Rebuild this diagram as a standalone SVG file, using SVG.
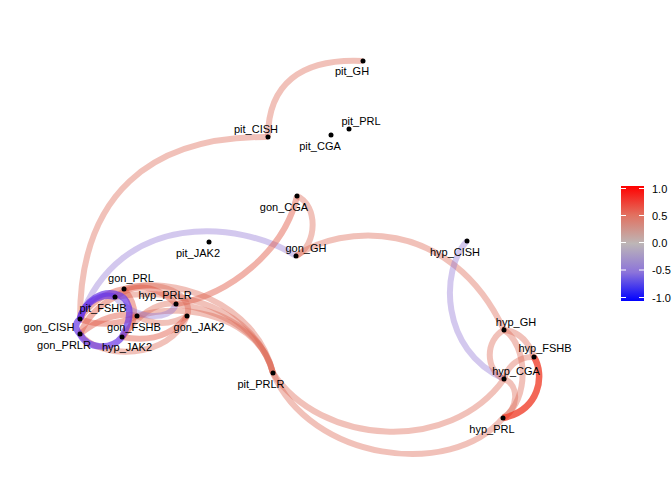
<svg xmlns="http://www.w3.org/2000/svg" width="672" height="480" viewBox="0 0 672 480">
<style>
text { font-family: "Liberation Sans", Arial, sans-serif; font-size: 11px; fill: #000; }
.lbl { text-anchor: middle; }
.e { fill: none; stroke-width: 6; }
.pos { stroke: rgb(220,100,80); stroke-opacity: 0.4; }
.pos2 { stroke: rgb(225,85,65); stroke-opacity: 0.45; }
.strong { stroke: rgb(240,60,40); stroke-opacity: 0.78; stroke-width: 6.5; }
.neg { stroke: rgb(140,110,210); stroke-opacity: 0.38; }
.negS { stroke: rgb(105,55,230); stroke-opacity: 0.7; stroke-width: 6.5; }
.dot { fill: #000; }
.tick { stroke: #fff; stroke-width: 1; }
</style>
<defs>
<linearGradient id="cbar" x1="0" y1="0" x2="0" y2="1">
<stop offset="0" stop-color="#ff0000"/>
<stop offset="0.25" stop-color="#e2705f"/>
<stop offset="0.5" stop-color="#bdb6b6"/>
<stop offset="0.75" stop-color="#8c74da"/>
<stop offset="1" stop-color="#0000ff"/>
</linearGradient>
</defs>
<rect width="672" height="480" fill="#fff"/>
<g id="edges">
<path class="e pos" d="M268,137 C268,85 300,58 363,61"/>
<path class="e pos" d="M268,137 C150,136 80,195 80,319"/>
<path class="e neg" d="M296,256 C240,220 120,210 80,319"/>
<path class="e pos" d="M297,196 C318,205 318,245 296,256"/>
<path class="e pos2" d="M297,196 C285,250 230,295 176,304"/>
<path class="e pos" d="M296,256 C340,225 450,215 504,330"/>
<path class="e neg" d="M467,241 C440,270 440,350 504,379"/>
<path class="e pos" d="M504,330 Q525,332 534,357"/>
<path class="e pos" d="M504,330 C485,340 485,370 504,379"/>
<path class="e pos" d="M504,330 C528,345 530,400 503,418"/>
<path class="e pos" d="M534,357 C520,356 508,365 504,379"/>
<path class="e pos" d="M504,379 C520,385 518,410 503,418"/>
<path class="e strong" d="M534,357 C545,375 540,410 503,418"/>
<path class="e pos" d="M273,373 C320,445 450,455 504,379"/>
<path class="e pos" d="M273,373 C310,460 450,480 503,418"/>
<path class="e pos" d="M176,304 C220,310 262,330 273,373"/>
<path class="e pos" d="M124,289 C170,275 255,300 273,373"/>
<path class="e pos" d="M137,316 C190,300 260,320 273,373"/>
<path class="e pos" d="M115,297 C180,285 255,310 273,373"/>
<path class="e pos" d="M80,334 C100,360 170,360 187,316"/>
<path class="e pos" d="M124,289 C160,278 195,295 187,316"/>
<path class="e pos2" d="M80,319 Q108,330 137,316"/>
<path class="e pos2" d="M80,334 Q110,310 137,316"/>
<path class="e pos2" d="M115,297 Q90,310 80,334"/>
<path class="e pos2" d="M124,289 Q145,315 122,337"/>
<path class="e pos2" d="M124,289 Q95,295 80,319"/>
<path class="e pos2" d="M115,297 Q145,275 176,304"/>
<path class="e pos" d="M137,316 Q162,330 187,316"/>
<path class="e pos2" d="M122,337 Q165,345 187,316"/>
<path class="e pos" d="M122,337 Q150,300 176,304"/>
<path class="e neg" d="M115,297 C135,320 170,322 176,304"/>
<path class="e negS" d="M80,319 C90,280 150,285 122,337"/>
<path class="e negS" d="M80,334 C88,350 112,350 122,337"/>
<path class="e negS" d="M80,319 Q72,326 80,334"/>
<path class="e negS" d="M115,297 C100,292 82,305 80,319"/>
</g>
<g id="pit_GH"><circle class="dot" cx="363" cy="61" r="2.5"/><text class="lbl" x="352" y="75">pit_GH</text></g>
<g id="pit_PRL"><circle class="dot" cx="349" cy="129" r="2.5"/><text class="lbl" x="361" y="125">pit_PRL</text></g>
<g id="pit_CGA"><circle class="dot" cx="331" cy="135" r="2.5"/><text class="lbl" x="320" y="150">pit_CGA</text></g>
<g id="pit_CISH"><circle class="dot" cx="268" cy="137" r="2.5"/><text class="lbl" x="256" y="133">pit_CISH</text></g>
<g id="gon_CGA"><circle class="dot" cx="297" cy="196" r="2.5"/><text class="lbl" x="284" y="211">gon_CGA</text></g>
<g id="gon_GH"><circle class="dot" cx="296" cy="256" r="2.5"/><text class="lbl" x="306" y="252">gon_GH</text></g>
<g id="pit_JAK2"><circle class="dot" cx="209" cy="242" r="2.5"/><text class="lbl" x="198" y="257">pit_JAK2</text></g>
<g id="hyp_CISH"><circle class="dot" cx="467" cy="241" r="2.5"/><text class="lbl" x="455" y="256">hyp_CISH</text></g>
<g id="hyp_GH"><circle class="dot" cx="504" cy="330" r="2.5"/><text class="lbl" x="516" y="326">hyp_GH</text></g>
<g id="hyp_FSHB"><circle class="dot" cx="534" cy="357" r="2.5"/><text class="lbl" x="545" y="352">hyp_FSHB</text></g>
<g id="hyp_CGA"><circle class="dot" cx="504" cy="379" r="2.5"/><text class="lbl" x="516" y="375">hyp_CGA</text></g>
<g id="hyp_PRL"><circle class="dot" cx="503" cy="418" r="2.5"/><text class="lbl" x="492" y="433">hyp_PRL</text></g>
<g id="gon_PRL"><circle class="dot" cx="124" cy="289" r="2.5"/><text class="lbl" x="131" y="282">gon_PRL</text></g>
<g id="pit_FSHB"><circle class="dot" cx="115" cy="297" r="2.5"/><text class="lbl" x="103" y="312">pit_FSHB</text></g>
<g id="hyp_PRLR"><circle class="dot" cx="176" cy="304" r="2.5"/><text class="lbl" x="165" y="299">hyp_PRLR</text></g>
<g id="gon_FSHB"><circle class="dot" cx="137" cy="316" r="2.5"/><text class="lbl" x="134" y="331">gon_FSHB</text></g>
<g id="gon_JAK2"><circle class="dot" cx="187" cy="316" r="2.5"/><text class="lbl" x="199" y="331">gon_JAK2</text></g>
<g id="gon_CISH"><circle class="dot" cx="80" cy="319" r="2.5"/><text class="lbl" x="49" y="331">gon_CISH</text></g>
<g id="gon_PRLR"><circle class="dot" cx="80" cy="334" r="2.5"/><text class="lbl" x="64" y="349">gon_PRLR</text></g>
<g id="hyp_JAK2"><circle class="dot" cx="122" cy="337" r="2.5"/><text class="lbl" x="127" y="351">hyp_JAK2</text></g>
<g id="pit_PRLR"><circle class="dot" cx="273" cy="373" r="2.5"/><text class="lbl" x="261" y="388">pit_PRLR</text></g>
<g id="legend">
<rect x="621" y="186" width="23" height="115" fill="url(#cbar)"/>
<line class="tick" x1="621" y1="188.5" x2="626" y2="188.5"/><line class="tick" x1="639" y1="188.5" x2="644" y2="188.5"/>
<line class="tick" x1="621" y1="215.5" x2="626" y2="215.5"/><line class="tick" x1="639" y1="215.5" x2="644" y2="215.5"/>
<line class="tick" x1="621" y1="242.5" x2="626" y2="242.5"/><line class="tick" x1="639" y1="242.5" x2="644" y2="242.5"/>
<line class="tick" x1="621" y1="270" x2="626" y2="270"/><line class="tick" x1="639" y1="270" x2="644" y2="270"/>
<line class="tick" x1="621" y1="297.5" x2="626" y2="297.5"/><line class="tick" x1="639" y1="297.5" x2="644" y2="297.5"/>
<text x="652" y="192.5">1.0</text>
<text x="652" y="219.5">0.5</text>
<text x="652" y="246.5">0.0</text>
<text x="652" y="274">-0.5</text>
<text x="652" y="301.5">-1.0</text>
</g>
</svg>
